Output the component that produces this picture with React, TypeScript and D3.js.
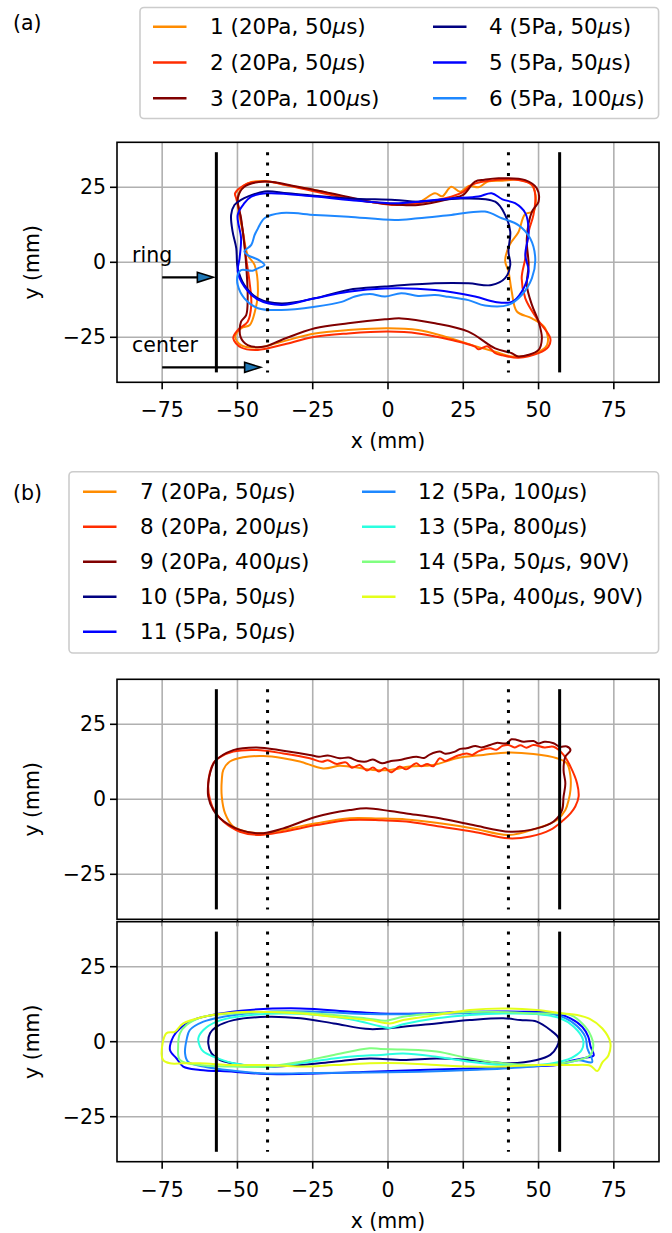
import * as d3 from 'd3';

type Pt = [number, number];

// panel (a) contours, mm
const curve1: Pt[] = [[-49.3,23.6],[-46.6,26.3],[-41,27.1],[-33,25.6],[-24.3,24.1],[-13.2,21.5],[-5,20],[2.3,19.5],[10,19.9],[15.6,23],[18,22],[21,25.2],[24,23.5],[27,25.5],[30,25],[33,26.8],[38,27.2],[43.5,27.5],[47.5,26],[49,22.5],[48.3,17],[45.5,16],[43.3,10],[40.5,6],[38.9,0.5],[40,-3],[41.1,-9.8],[42.8,-16.4],[47.8,-18.7],[52.2,-22],[52.8,-27.6],[47.8,-30.7],[41.1,-31.4],[35.6,-29.8],[27.8,-27.6],[18,-24.5],[10,-22.6],[0,-22],[-13.2,-22.6],[-24.3,-23.7],[-35.4,-26.5],[-43.2,-28.4],[-48.8,-27.6],[-50.7,-24.8],[-48.7,-22],[-45.9,-20.9],[-44.2,-16.4],[-43.2,-9.8],[-44.3,-0.9],[-46.6,2.4],[-48.2,10.2],[-49.9,19.1]];
const curve2: Pt[] = [[-50.8,23],[-46.6,26.3],[-40.4,26.9],[-33.2,25.6],[-24.3,23.6],[-13.2,21.3],[-5,20],[2.3,19.1],[10,19.7],[21,21.9],[25,23.5],[27.8,25.8],[35.6,27.4],[43.3,27.4],[47.8,25.8],[48.9,22.4],[48.3,15.8],[46.7,10.2],[45.6,1.3],[44.4,-5.3],[45.6,-12],[49.4,-18.7],[53.9,-25.3],[53.3,-28.1],[50,-30.3],[43.3,-31.8],[38,-31],[35.6,-30.3],[33,-28],[30,-29],[28.9,-28.1],[21.1,-25.9],[10,-23.7],[0,-23.1],[-13.2,-23.7],[-24.3,-24.8],[-35.4,-27.6],[-43.2,-29.2],[-48.8,-28.4],[-51.4,-25.3],[-49.9,-22.6],[-46.6,-19.8],[-45.4,-14.2],[-46,-6.4],[-47.1,1.3],[-48.2,10.2],[-49.3,16.9],[-50.4,21.3]];
const curve3: Pt[] = [[-49.9,21.3],[-47.7,25.2],[-41,26.9],[-29.9,25.2],[-13.2,21.8],[-5,20],[2.3,19.3],[10,19.1],[21,21.3],[25,22.5],[28.9,26.9],[32,27.5],[36.7,28],[45.6,27.4],[49.4,24.7],[50,20.2],[47.8,16.9],[46.1,8],[46.7,-0.9],[46.1,-7.6],[47.8,-14.2],[50,-19.8],[51.1,-25.3],[50,-29.2],[43.3,-31.4],[41.1,-30.3],[35.6,-28.7],[26.7,-23.1],[15.6,-20.3],[4.4,-18.7],[-1,-19],[-13.2,-20.3],[-24.3,-22],[-35.4,-25.9],[-41,-28.1],[-46.6,-27.6],[-49,-24.8],[-48.8,-19.8],[-47.1,-17.6],[-46.6,-12],[-47.1,-0.9],[-47.7,5.8],[-48.8,14.7]];
const curve4: Pt[] = [[-51,19.1],[-48.8,20.8],[-46.6,21.9],[-41,23.6],[-33.2,23],[-13.2,21.3],[2.3,20.8],[10,20.2],[24.4,21.3],[35.6,20.2],[38.9,15.8],[40.6,10.2],[40,3.6],[40.6,-0.9],[38.9,-5.3],[34.4,-7.6],[26.7,-7],[15.6,-7],[-1,-8.1],[-13.2,-9.2],[-24.3,-12],[-35.4,-13.7],[-43.2,-12],[-47.7,-7.6],[-49.9,-2],[-50.4,4.7],[-51.6,10.2],[-52.1,15.8]];
const curve5: Pt[] = [[-47.7,19.7],[-45.4,21.9],[-39.9,23],[-24.3,21.9],[-10,20.5],[2.3,19.7],[10,20.2],[21,21.3],[30,21.9],[34.4,23],[38,21],[42.2,19.7],[45.6,16.4],[46.7,10.2],[45.6,2.4],[46.7,-3.1],[44.4,-9.8],[41.1,-13.2],[35.6,-13.2],[28.9,-11.4],[15.6,-9.2],[-1,-8.7],[-13.2,-9.8],[-24.3,-12],[-35.4,-14.2],[-43.2,-12.4],[-47.7,-8.1],[-49.9,-3.1],[-49.3,1.3],[-48.8,8],[-49.9,15.8]];
const curve6: Pt[] = [[-43.2,11.3],[-41,14.7],[-35.4,16.4],[-24.3,15.8],[-13.2,15.2],[2.3,14.1],[10,14.7],[21,15.8],[32.2,16.9],[37.8,14.7],[43.3,12.4],[47.2,8],[48.9,1.3],[47.8,-5.3],[44.4,-10.9],[40,-14.2],[32.2,-14.4],[26.7,-12.6],[20,-11.5],[15.6,-10.9],[10,-11.2],[4.4,-10.3],[-1,-11.4],[-6,-10.6],[-11,-11.4],[-13,-12.2],[-15.4,-13.2],[-24.3,-14.8],[-35.4,-15.9],[-43.2,-15.3],[-47.7,-12],[-49.9,-7.6],[-49.9,-4.2],[-48.8,-2.6],[-45,-2.8],[-43.2,-2],[-41,-0.9],[-43,0.8],[-46.6,2.4],[-47.7,3.6],[-45.4,5.8],[-44.3,9.1]];

// panel (b) upper
const curve7: Pt[] = [[-55.2,6.4],[-54.7,9.8],[-52.5,12.6],[-48.1,14],[-41.4,14.4],[-34.8,13.7],[-29.3,12.6],[-21.5,10.3],[-16,11.2],[-12.7,10.9],[-8,10.2],[-5,9.8],[0.6,9.8],[7.2,10.9],[15,11.4],[22.8,13.7],[31.7,14.8],[40,15.6],[48.3,15.1],[56.1,13.7],[59.4,12],[60.6,7.6],[60.6,3.1],[60,-0.2],[58.9,-3.6],[56.1,-6.9],[49.4,-9.7],[40,-11.9],[28.3,-9.7],[17.2,-8],[6.1,-6.7],[-3,-6.4],[-12.7,-6.3],[-23.8,-8],[-34.8,-10.2],[-40.3,-11.3],[-47,-10.8],[-51.4,-9.1],[-54.1,-4.7],[-55.2,0.9]];
const curve8: Pt[] = [[-59.7,5.3],[-58,12],[-56.4,13.7],[-51.4,15.9],[-43.6,16.4],[-34.8,15.3],[-26,13.7],[-22,12.5],[-20,13],[-17,11.8],[-14,12.3],[-12,10.5],[-9.4,11.4],[-7,9.6],[-5,10.6],[-3,9.3],[-1,10.4],[1,9],[3.9,10.9],[6,10],[9.4,12],[11,11],[13,11.8],[15,11],[17.2,13.7],[19,12.8],[21,13.6],[23,14.5],[26.1,15.3],[28,14.8],[30,16],[33.9,17],[36,16.5],[38,17.8],[40,18.1],[42,17.3],[44,18],[46,17.2],[48.3,18.1],[52,17.3],[55,17.5],[58.3,14.8],[60.6,10.9],[62.8,5.3],[63.3,0.9],[62.2,-2.4],[60.6,-4.7],[58.3,-6.9],[53.9,-10.2],[47.2,-12.4],[40,-13],[28.3,-10.8],[17.2,-9.1],[6.1,-7.4],[-2,-7],[-12.7,-6.9],[-23.8,-8.6],[-34.8,-10.8],[-42.5,-11.9],[-49.2,-10.8],[-54.7,-7.4],[-57.5,-4.1],[-59.1,-0.2]];
const curve9: Pt[] = [[-59.1,8.7],[-57.5,12.6],[-51.4,16.4],[-43.6,17.3],[-34.8,16.2],[-26,14.8],[-23,14.2],[-20,14.6],[-16,13.7],[-13,13.9],[-10,12.8],[-7.2,12.6],[-5,13.3],[-2,12],[1,12.8],[3.9,13.1],[6,13.6],[9.4,14.2],[12,13.8],[14,15],[17.2,15.9],[19,15.2],[22,15.8],[24,16.8],[26.1,17],[29,17.8],[31,17.3],[33.9,18.1],[36,18.8],[39.4,18.7],[41,20],[42.8,19.8],[45,19.2],[48.3,19.4],[50,18.6],[52,19.2],[55,18.7],[57,17.5],[59.4,17.6],[60.6,16.4],[58.9,14.2],[58.3,9.8],[58.9,5.3],[58.3,0.9],[57.8,-3.6],[55,-7.4],[49.4,-9.7],[40.6,-10.8],[28.3,-8.6],[17.2,-6.3],[6.1,-4.7],[0.6,-3.9],[-7.2,-3],[-12.7,-3.6],[-23.8,-5.8],[-34.8,-9.7],[-41.4,-11.3],[-49.2,-10.2],[-55.8,-6.3],[-58,-3.6],[-59.7,0.9],[-59.7,5.3]];

// panel (b) lower
const curve10: Pt[] = [[-59.7,-0.6],[-59.1,2.8],[-56.9,5],[-51.3,7.2],[-40.2,8.3],[-29.1,7.8],[-18,6.1],[-6,4.2],[5,5],[16.1,6.1],[27.2,7.2],[38.3,7.8],[43.9,7.2],[49.4,6.7],[53.9,3.9],[56.7,1.1],[56.1,-1.7],[53.9,-4.4],[49.4,-6.1],[40.6,-7.2],[27.2,-6.1],[16.1,-5.6],[5,-6.1],[-6.1,-5.6],[-18,-6.7],[-29.1,-7.8],[-40.2,-8.3],[-48,-7.8],[-55.8,-6.1],[-58.6,-3.9]];
const curve11: Pt[] = [[-72.4,-2.8],[-71.3,1.7],[-69.1,4.4],[-64.7,7.2],[-56.9,9.2],[-45.8,10.6],[-29.1,11.1],[-12.4,10],[-2.4,9.4],[10.6,9.4],[27.2,10],[43.9,10],[56.1,9.4],[60.6,7.8],[64.5,5],[66.5,1.7],[67.3,-1.7],[68.3,-4.6],[65.5,-5.4],[60.6,-6.4],[56.1,-7.8],[43.9,-8.3],[27.2,-8.9],[10.6,-9.4],[-6.1,-10],[-23.6,-10.6],[-40.2,-10.8],[-51.3,-10],[-62.4,-9.4],[-68,-8.3],[-70.2,-5.6]];
const curve12: Pt[] = [[-67.4,-3.9],[-66.9,0.6],[-65.8,3.9],[-61.3,6.7],[-54.7,8.3],[-40.2,10],[-23.6,10],[-6,9.2],[10,9.2],[27.2,9.6],[43.9,9.6],[56.1,8.9],[61.7,6.1],[65.5,1.7],[66.2,-2.2],[67.8,-6.8],[63.3,-6.2],[58.3,-7.2],[43.9,-8.6],[27.2,-9.4],[10.6,-10],[-6.1,-10.3],[-23.6,-10.4],[-40.2,-10.6],[-51.3,-9.7],[-61.3,-8.3],[-66.4,-6.7]];
const curve13: Pt[] = [[-63,1.1],[-61.3,3.9],[-56.9,6.7],[-50.2,8.3],[-34.7,9.4],[-18,8.3],[-8,6.5],[-3,5.2],[0.6,4.6],[5,5.8],[16.1,7.8],[27.2,8.9],[38.3,9.4],[49.4,9.2],[57.2,7.8],[61.7,5],[64.8,0.6],[64.3,-2.8],[61.7,-5],[57.2,-6.7],[49.4,-7.8],[38.3,-7.8],[27.2,-6.7],[16.1,-5],[5,-3.9],[-2.4,-4.4],[-10,-4.8],[-18,-5.6],[-29.1,-7.2],[-40.2,-8.3],[-51.3,-7.2],[-58,-5],[-61.3,-3.3],[-62.4,-1.7]];
const curve14: Pt[] = [[-69.7,-1.7],[-69.1,2.8],[-66.9,5.6],[-61.3,8.3],[-51.3,9.4],[-34.7,10],[-18,8.9],[-6,7.6],[-0.6,7],[5,8.3],[16.1,9.4],[32.8,10],[49.4,9.4],[60.6,8.9],[65.5,5],[67.5,1.7],[68.2,-1.2],[67,-4.6],[60.6,-6.7],[49.4,-7.8],[38.3,-7.2],[27.2,-5.6],[16.1,-3.3],[5,-2.6],[-2.4,-2.4],[-6.1,-2.2],[-18,-4.4],[-29.1,-6.7],[-40.2,-8.3],[-51.3,-8.3],[-62.4,-7.8],[-69.1,-6.1]];
const curve15: Pt[] = [[-75.2,-3.9],[-73.6,2.8],[-70.8,3.3],[-68,6.1],[-61.3,8.3],[-54.7,9.4],[-45.8,10],[-29.1,9.4],[-18,8.3],[-6.1,7.2],[0.6,6.1],[5,7.2],[16.1,8.9],[27.2,10.6],[38.3,11.1],[49.4,10.6],[58.3,9.4],[62.8,8.9],[67,7.6],[71.2,4.4],[73.8,-0.2],[73.2,-4.6],[71.2,-6.9],[69.5,-9.8],[67.2,-8],[60.6,-7.8],[49.4,-7.8],[38.3,-8.3],[27.2,-8.3],[16.1,-7.8],[5,-7.2],[-6.1,-7.2],[-18,-7.8],[-29.1,-8.3],[-40.2,-7.8],[-51.3,-7.8],[-62.4,-7.2],[-68,-7.2],[-72.4,-7.2],[-74.7,-6.1]];

const labelsA = ['1 (20Pa, 50μs)', '2 (20Pa, 50μs)', '3 (20Pa, 100μs)', '4 (5Pa, 50μs)', '5 (5Pa, 50μs)', '6 (5Pa, 100μs)'];
const labelsB = ['7 (20Pa, 50μs)', '8 (20Pa, 200μs)', '9 (20Pa, 400μs)', '10 (5Pa, 50μs)', '11 (5Pa, 50μs)',
  '12 (5Pa, 100μs)', '13 (5Pa, 800μs)', '14 (5Pa, 50μs, 90V)', '15 (5Pa, 400μs, 90V)'];
const colorsA = ['#ff8c00', '#ff2d00', '#800000', '#000080', '#0000ff', '#1e88ff'];
const colorsB = ['#ff8c00', '#ff2d00', '#800000', '#000080', '#0000ff', '#1e88ff', '#2affe0', '#80ff80', '#e4ff1a'];

const X_TICKS = [-75, -50, -25, 0, 25, 50, 75];
const Y_TICKS = [-25, 0, 25];
const RING_X = [-57, 57];
const CENTER_X = [-40, 40];
const LINE_Y: [number, number] = [-36.7, 36.7];

const FONT = '"DejaVu Sans", sans-serif';
const FS = 20.5;
const fmt = (v: number) => (v < 0 ? '\u2212' + Math.abs(v) : String(v));

const x = d3.scaleLinear().domain([-90, 90]).range([117, 659]);

function Label({ text, ...rest }: any) {
  const parts = text.split('μ');
  return (
    <text {...rest}>
      {parts.map((p: string, i: number) => (
        <tspan key={i}>
          {i > 0 && <tspan fontStyle="italic">μ</tspan>}
          {p}
        </tspan>
      ))}
    </text>
  );
}

function Panel({ top, curves, colors, xLabels, annotate }: any) {
  const y = d3.scaleLinear().domain([-40, 40]).range([top + 240, top]);
  const line = d3.line<Pt>().x(d => x(d[0])).y(d => y(d[1])).curve(d3.curveCatmullRomClosed.alpha(0.5));
  const [x0, x1] = x.range();
  const bottom = top + 240;
  const arrows = [
    { from: -75, to: -58, at: -5 },
    { from: -75, to: -42.3, at: -35 },
  ];
  return (
    <g>
      {/* grid */}
      {X_TICKS.map(t => (
        <line key={'gx' + t} x1={x(t)} x2={x(t)} y1={top} y2={bottom} stroke="#b0b0b0" strokeWidth={1.6} />
      ))}
      {Y_TICKS.map(t => (
        <line key={'gy' + t} x1={x0} x2={x1} y1={y(t)} y2={y(t)} stroke="#b0b0b0" strokeWidth={1.6} />
      ))}
      {curves.map((c: Pt[], i: number) => (
        <path key={i} d={line(c) || ''} fill="none" stroke={colors[i]} strokeWidth={2} strokeLinejoin="round" />
      ))}
      {RING_X.map(v => (
        <line key={'r' + v} x1={x(v)} x2={x(v)} y1={y(LINE_Y[0])} y2={y(LINE_Y[1])} stroke="#000" strokeWidth={3} />
      ))}
      {CENTER_X.map(v => (
        <line key={'c' + v} x1={x(v)} x2={x(v)} y1={y(LINE_Y[1])} y2={y(LINE_Y[0])} stroke="#000" strokeWidth={3}
          strokeDasharray="3 7.4" />
      ))}
      {annotate && (
        <g>
          <text x={x(-85)} y={y(0)} fontSize={FS} fontFamily={FONT}>ring</text>
          <text x={x(-85)} y={y(-30)} fontSize={FS} fontFamily={FONT}>center</text>
          {arrows.map((a, i) => {
            const tx = x(a.to), ay = y(a.at);
            return (
              <g key={i}>
                <line x1={x(a.from)} x2={tx - 15} y1={ay} y2={ay} stroke="#000" strokeWidth={2.2} />
                <polygon points={`${tx},${ay} ${tx - 16},${ay - 5} ${tx - 16},${ay + 5}`} fill="#1f77b4"
                  stroke="#000" strokeWidth={1.6} strokeLinejoin="miter" />
              </g>
            );
          })}
        </g>
      )}
      <rect x={x0} y={top} width={x1 - x0} height={240} fill="none" stroke="#000" strokeWidth={1.6} />
      {Y_TICKS.map(t => (
        <g key={'ty' + t}>
          <line x1={x0 - 7} x2={x0} y1={y(t)} y2={y(t)} stroke="#000" strokeWidth={1.6} />
          <text x={106} y={y(t) + 7} textAnchor="end" fontSize={FS} fontFamily={FONT}>{fmt(t)}</text>
        </g>
      ))}
      {X_TICKS.map(t => (
        <g key={'tx' + t}>
          <line x1={x(t)} x2={x(t)} y1={bottom} y2={bottom + 7} stroke="#000" strokeWidth={1.6} />
          {xLabels && (
            <text x={x(t)} y={bottom + 35} textAnchor="middle" fontSize={FS} fontFamily={FONT}>{fmt(t)}</text>
          )}
        </g>
      ))}
      {xLabels && (
        <text x={(x0 + x1) / 2} y={bottom + 66} textAnchor="middle" fontSize={FS} fontFamily={FONT}>x (mm)</text>
      )}
      <text transform={`translate(32,${top + 120}) rotate(-90)`} textAnchor="middle" dy="0.35em" fontSize={FS}
        fontFamily={FONT}>y (mm)</text>
    </g>
  );
}

function Legend({ box, labels, colors, rows, rowY, step, lineX, textX }: any) {
  return (
    <g>
      <rect x={box[0]} y={box[1]} width={box[2]} height={box[3]} rx={4} fill="#fff" fillOpacity={0.8}
        stroke="#cccccc" strokeWidth={1.6} />
      {labels.map((l: string, i: number) => {
        const col = Math.floor(i / rows), row = i % rows;
        const cy = rowY + row * step;
        return (
          <g key={l}>
            <line x1={lineX[col]} x2={lineX[col] + 33.5} y1={cy} y2={cy} stroke={colors[i]} strokeWidth={2.5} />
            <Label text={l} x={textX[col]} y={cy + 7.5} fontSize={21.5} fontFamily={FONT} />
          </g>
        );
      })}
    </g>
  );
}

export default function App() {
  return (
    <svg width={672} height={1233} style={{ position: 'absolute', left: 0, top: 0, background: '#fff' }}>
      <rect width={672} height={1233} fill="#fff" />
      <text x={13} y={30} fontSize={FS} fontFamily={FONT}>(a)</text>
      <text x={13} y={500} fontSize={FS} fontFamily={FONT}>(b)</text>
      <Panel top={142.3} curves={[curve1, curve2, curve3, curve4, curve5, curve6]} colors={colorsA} xLabels annotate />
      <Panel top={679.3} curves={[curve7, curve8, curve9]} colors={colorsB.slice(0, 3)} />
      <Panel top={921.7} curves={[curve10, curve11, curve12, curve13, curve14, curve15]} colors={colorsB.slice(3)} xLabels />
      <Legend box={[140, 7.5, 518.6, 111]} labels={labelsA} colors={colorsA} rows={3} rowY={26.7} step={35.8}
        lineX={[153, 433]} textX={[210, 489]} />
      <Legend box={[69, 471.7, 589.6, 181.3]} labels={labelsB} colors={colorsB} rows={5} rowY={491.7} step={35}
        lineX={[83, 362]} textX={[140, 418]} />
    </svg>
  );
}
